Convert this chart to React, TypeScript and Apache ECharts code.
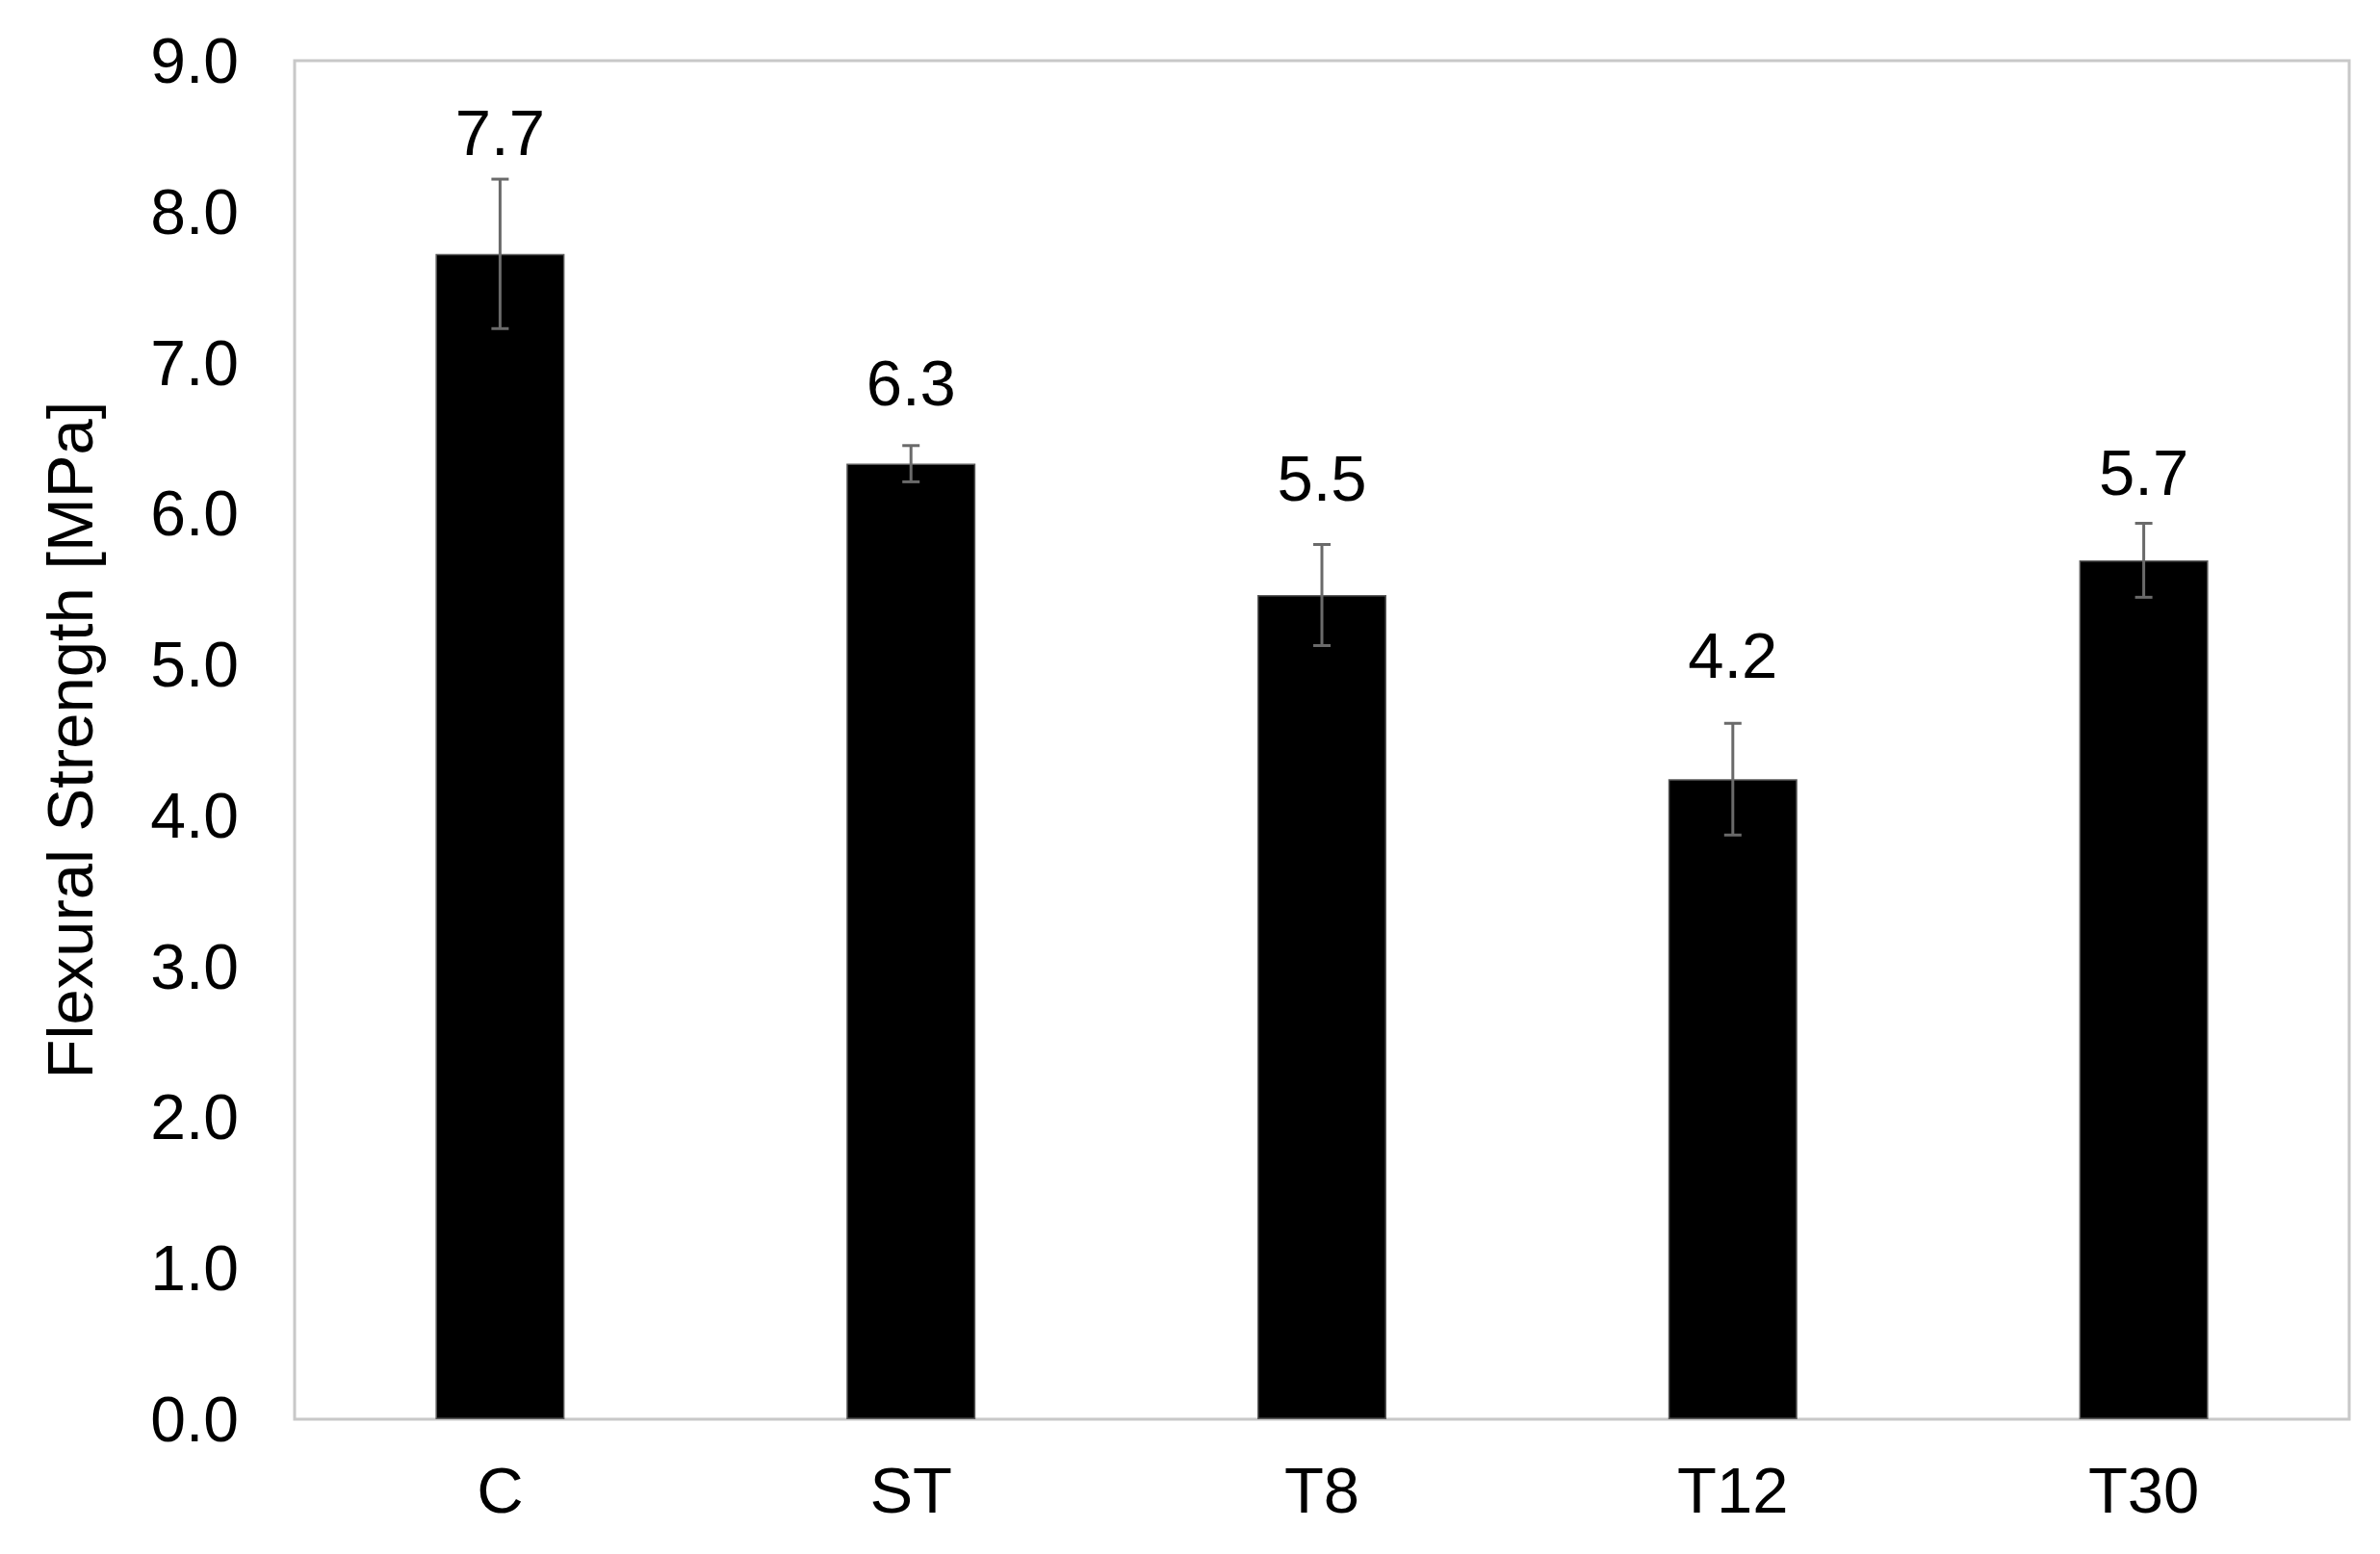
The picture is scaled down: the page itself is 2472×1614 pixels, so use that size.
import React, { useEffect, useRef } from "react";
import * as echarts from "echarts";

const categories = ["C", "ST", "T8", "T12", "T30"];
const strengthMean = [7.72, 6.33, 5.46, 4.24, 5.69];
const strengthErr = [0.495, 0.12, 0.335, 0.37, 0.245];
const yTicks = { min: 0, max: 9, interval: 1 };
const labelDistances = [93, 51, 88, 95, 58];

const FONT = "'Liberation Sans', Arial, sans-serif";

export default function App() {
  const ref = useRef<HTMLDivElement>(null);
  useEffect(() => {
    if (!ref.current) return;
    const chart = echarts.init(ref.current, undefined, { renderer: "svg" });
    const errData = categories.map((_, i) => [
      i,
      strengthMean[i] - strengthErr[i],
      strengthMean[i] + strengthErr[i],
    ]);
    chart.setOption({
      animation: false,
      backgroundColor: "#ffffff",
      textStyle: { fontFamily: FONT },
      grid: {
        left: 306,
        right: 32,
        top: 63,
        bottom: 140,
        show: true,
        borderColor: "#c8c8c8",
        borderWidth: 3,
        backgroundColor: "transparent",
      },
      xAxis: {
        type: "category",
        data: categories,
        axisLine: { show: false },
        axisTick: { show: false },
        axisLabel: { color: "#000", fontSize: 67, fontFamily: FONT, margin: 40 },
        splitLine: { show: false },
      },
      yAxis: {
        type: "value",
        min: yTicks.min,
        max: yTicks.max,
        interval: yTicks.interval,
        name: "Flexural Strength [MPa]",
        nameLocation: "middle",
        nameGap: 200,
        nameTextStyle: { color: "#000", fontSize: 67, fontFamily: FONT },
        axisLine: { show: false },
        axisTick: { show: false },
        splitLine: { show: false },
        axisLabel: {
          color: "#000",
          fontSize: 66,
          fontFamily: FONT,
          margin: 58,
          formatter: (v: number) => v.toFixed(1),
        },
      },
      series: [
        {
          type: "bar",
          barWidth: 134,
          data: strengthMean.map((v, i) => ({
            value: v,
            label: { distance: labelDistances[i] },
          })),
          itemStyle: { color: "#000", borderColor: "#5a5a5a", borderWidth: 1.5 },
          label: {
            show: true,
            position: "top",
            color: "#000",
            fontSize: 67,
            fontFamily: FONT,
            formatter: (p: any) => Number(p.value).toFixed(1),
          },
          z: 2,
        },
        {
          type: "custom",
          data: errData,
          z: 5,
          renderItem: (params: any, api: any) => {
            const x = api.value(0);
            const lo = api.coord([x, api.value(1)]);
            const hi = api.coord([x, api.value(2)]);
            const cap = 9;
            const style = { stroke: "#6a6a6a", lineWidth: 3 };
            return {
              type: "group",
              children: [
                { type: "line", shape: { x1: lo[0], y1: lo[1], x2: hi[0], y2: hi[1] }, style },
                { type: "line", shape: { x1: hi[0] - cap, y1: hi[1], x2: hi[0] + cap, y2: hi[1] }, style },
                { type: "line", shape: { x1: lo[0] - cap, y1: lo[1], x2: lo[0] + cap, y2: lo[1] }, style },
              ],
            };
          },
        },
      ],
    });
    return () => chart.dispose();
  }, []);
  return (
    <div
      ref={ref}
      style={{ position: "fixed", left: 0, top: 0, width: 2472, height: 1614, background: "#fff" }}
    />
  );
}
